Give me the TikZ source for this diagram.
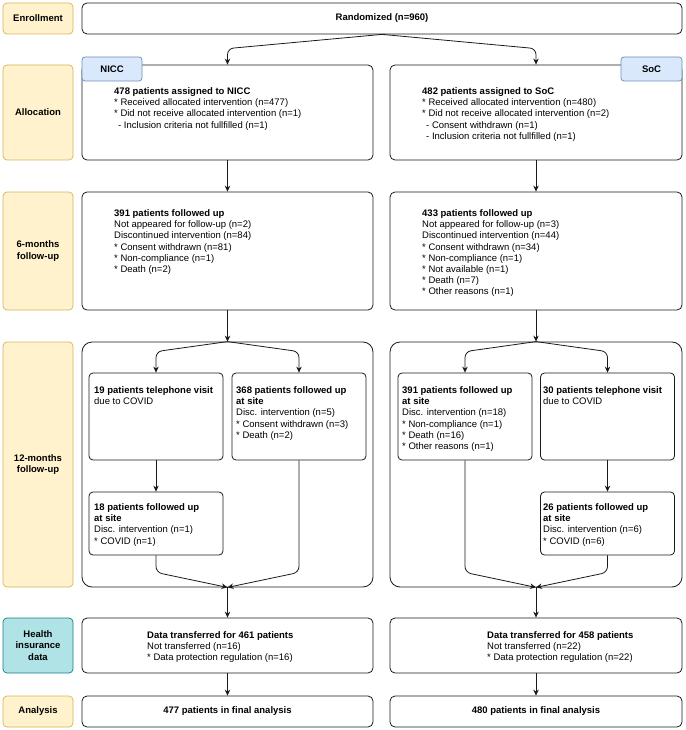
\documentclass[tikz,border=0pt]{standalone}
\usepackage{fontspec}
\setmainfont{Liberation Sans}
\usetikzlibrary{arrows.meta,calc}
\definecolor{lblfill}{HTML}{FFF2CC}
\definecolor{lbldraw}{HTML}{D6B656}
\definecolor{tealfill}{HTML}{B0E3E6}
\definecolor{tealdraw}{HTML}{0E8088}
\definecolor{tabfill}{HTML}{DAE8FC}
\definecolor{tabdraw}{HTML}{6C8EBF}
\definecolor{linecol}{HTML}{1A1A1A}
\begin{document}
\begin{tikzpicture}[x=1pt,y=-1pt,
  every node/.style={font=\fontsize{9.5}{11.2}\selectfont},
  lbl/.style={draw=lbldraw, fill=lblfill, rounded corners=4pt, minimum width=70pt, align=center, inner sep=0, line width=0.7pt, font=\fontsize{9.5}{11.2}\selectfont\bfseries},
  lblteal/.style={lbl, draw=tealdraw, fill=tealfill},
  box/.style={draw=linecol, rounded corners=5pt, inner sep=0, line width=0.8pt, fill=white},
  cont/.style={draw=linecol, rounded corners=10pt, inner sep=0, line width=0.8pt},
  sub/.style={draw=linecol, rounded corners=4pt, inner sep=0, line width=0.8pt, minimum width=134pt},
  tabbox/.style={draw=tabdraw, fill=tabfill, rounded corners=3pt, inner sep=0, line width=0.7pt, minimum height=24pt, font=\fontsize{9.5}{11.2}\selectfont\bfseries},
  txt/.style={anchor=north west, align=left, inner sep=0},
  arr/.style={draw=linecol, line width=0.8pt, -{Stealth[length=6pt,width=5.5pt]}}
]
\useasboundingbox (0,0) rectangle (685,730);

% stage labels
\node[lbl, minimum height=31pt] (lenroll) at (38,18.5) {Enrollment};
\node[lbl, minimum height=95pt] (lalloc) at (38,112.5) {Allocation};
\node[lbl, minimum height=118pt] (l6) at (38,251) {6-months\\follow-up};
\node[lbl, minimum height=245pt] (l12) at (38,464.5) {12-months\\follow-up};
\node[lblteal, minimum height=55pt] (lhealth) at (38,645.5) {Health\\insurance\\data};
\node[lbl, minimum height=31pt] (lana) at (38,711.5) {Analysis};

% enrollment
\node[box, minimum width=600pt, minimum height=31pt, font=\fontsize{9.5}{11.2}\selectfont\bfseries] (rand) at (382,18.5) {Randomized (n=960)};

% allocation
\node[box, minimum width=291pt, minimum height=95pt] (nalloc) at (227.5,112.5) {};
\node[box, minimum width=292pt, minimum height=95pt] (salloc) at (536,112.5) {};
\node[tabbox, minimum width=60pt] (ntab) at (112,69) {NICC};
\node[tabbox, minimum width=61pt] (stab) at (651.5,69) {SoC};
\node[txt] (nalloct) at (114,87.5) {\textbf{478 patients assigned to NICC}\\
* Received allocated intervention (n=477)\\
* Did not receive allocated intervention (n=1)\\
\hspace*{4pt}- Inclusion criteria not fullfilled (n=1)};
\node[txt] (salloct) at (422,87.5) {\textbf{482 patients assigned to SoC}\\
* Received allocated intervention (n=480)\\
* Did not receive allocated intervention (n=2)\\
\hspace*{4pt}- Consent withdrawn (n=1)\\
\hspace*{4pt}- Inclusion criteria not fullfilled (n=1)};

% 6 months
\node[box, minimum width=291pt, minimum height=118pt] (n6) at (227.5,251) {};
\node[box, minimum width=292pt, minimum height=118pt] (s6) at (536,251) {};
\node[txt] (n6t) at (114,209.5) {\textbf{391 patients followed up}\\
Not appeared for follow-up (n=2)\\
Discontinued intervention (n=84)\\
* Consent withdrawn (n=81)\\
* Non-compliance (n=1)\\
* Death (n=2)};
\node[txt] (s6t) at (422,209.5) {\textbf{433 patients followed up}\\
Not appeared for follow-up (n=3)\\
Discontinued intervention (n=44)\\
* Consent withdrawn (n=34)\\
* Non-compliance (n=1)\\
* Not available (n=1)\\
* Death (n=7)\\
* Other reasons (n=1)};

% 12 months containers
\node[cont, minimum width=291pt, minimum height=245pt] (n12) at (227.5,464.5) {};
\node[cont, minimum width=292pt, minimum height=245pt] (s12) at (536,464.5) {};

\node[sub, minimum height=87pt] (na) at (156,416.5) {};
\node[sub, minimum height=87pt] (nb) at (299,416.5) {};
\node[sub, minimum height=63pt] (nc) at (156,523.5) {};
\node[sub, minimum height=87pt] (sd) at (465,416.5) {};
\node[sub, minimum height=87pt] (se) at (607.5,416.5) {};
\node[sub, minimum height=63pt] (sf) at (607.5,523.5) {};

\node[txt] (nat) at (94,386.5) {\textbf{19 patients telephone visit}\\due to COVID};
\node[txt] (nbt) at (236,386.5) {\textbf{368 patients followed up}\\\textbf{at site}\\
Disc. intervention (n=5)\\
* Consent withdrawn (n=3)\\
* Death (n=2)};
\node[txt] (nct) at (94,503.5) {\textbf{18 patients followed up}\\\textbf{at site}\\
Disc. intervention (n=1)\\
* COVID (n=1)};
\node[txt] (sdt) at (402,386.5) {\textbf{391 patients followed up}\\\textbf{at site}\\
Disc. intervention (n=18)\\
* Non-compliance (n=1)\\
* Death (n=16)\\
* Other reasons (n=1)};
\node[txt] (set) at (543,386.5) {\textbf{30 patients telephone visit}\\due to COVID};
\node[txt] (sft) at (543,503.5) {\textbf{26 patients followed up}\\\textbf{at site}\\
Disc. intervention (n=6)\\
* COVID (n=6)};

% health insurance
\node[box, minimum width=291pt, minimum height=55pt] (nh) at (227.5,645.5) {};
\node[box, minimum width=292pt, minimum height=55pt] (sh) at (536,645.5) {};
\node[txt] (nht) at (147,631.5) {\textbf{Data transferred for 461 patients}\\
Not transferred (n=16)\\
* Data protection regulation (n=16)};
\node[txt] (sht) at (487,631.5) {\textbf{Data transferred for 458 patients}\\
Not transferred (n=22)\\
* Data protection regulation (n=22)};

% analysis
\node[box, minimum width=291pt, minimum height=31pt, font=\fontsize{9.5}{11.2}\selectfont\bfseries] (nan) at (227.5,711.5) {477 patients in final analysis};
\node[box, minimum width=292pt, minimum height=31pt, font=\fontsize{9.5}{11.2}\selectfont\bfseries] (san) at (536,711.5) {480 patients in final analysis};

% connectors
\draw[arr, rounded corners=6pt] (rand.south) -- ($(nalloc.north)+(0,-16)$) -- (nalloc.north);
\draw[arr, rounded corners=6pt] (rand.south) -- ($(salloc.north)+(0,-16)$) -- (salloc.north);
\draw[arr] (nalloc.south) -- (n6.north);
\draw[arr] (salloc.south) -- (s6.north);
\draw[arr] (n6.south) -- (n12.north);
\draw[arr] (s6.south) -- (s12.north);

\draw[arr, rounded corners=6pt] (n12.north) -- ($(na.north)+(0,-21)$) -- (na.north);
\draw[arr, rounded corners=6pt] (n12.north) -- ($(nb.north)+(0,-21)$) -- (nb.north);
\draw[arr] (na.south) -- (nc.north);
\draw[arr, rounded corners=6pt] (nc.south) -- ($(nc.south |- n12.south)+(0,-15)$) -- (n12.south);
\draw[arr, rounded corners=6pt] (nb.south) -- ($(nb.south |- n12.south)+(0,-15)$) -- (n12.south);

\draw[arr, rounded corners=6pt] (s12.north) -- ($(sd.north)+(0,-21)$) -- (sd.north);
\draw[arr, rounded corners=6pt] (s12.north) -- ($(se.north)+(0,-21)$) -- (se.north);
\draw[arr] (se.south) -- (sf.north);
\draw[arr, rounded corners=6pt] (sd.south) -- ($(sd.south |- s12.south)+(0,-15)$) -- (s12.south);
\draw[arr, rounded corners=6pt] (sf.south) -- ($(sf.south |- s12.south)+(0,-15)$) -- (s12.south);

\draw[arr] (n12.south) -- (nh.north);
\draw[arr] (s12.south) -- (sh.north);
\draw[arr] (nh.south) -- (nan.north);
\draw[arr] (sh.south) -- (san.north);
\end{tikzpicture}
\end{document}
